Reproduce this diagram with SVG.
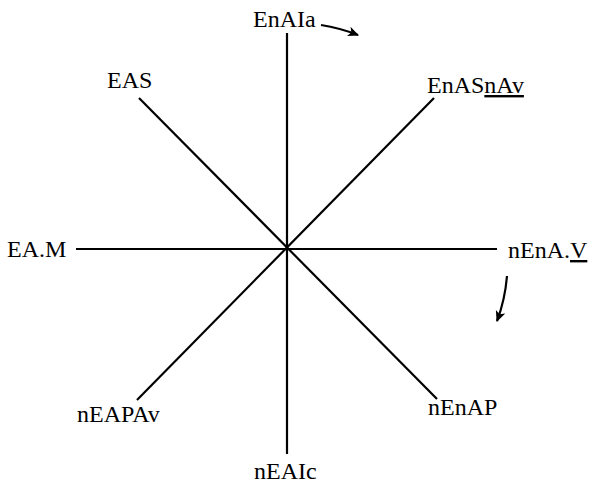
<svg xmlns="http://www.w3.org/2000/svg" width="590" height="488" viewBox="0 0 590 488">
<style>
.ln{stroke:#000;stroke-width:2.2;fill:none}
text{font-family:"Liberation Serif","Times New Roman",serif;font-size:24px;fill:#000}
</style>
<defs>
<marker id="ah" viewBox="0 0 10 10" refX="9" refY="5" markerWidth="5" markerHeight="5" orient="auto">
<path d="M0,0.5 L10,5 L0,9.5 L2.5,5 Z" fill="#000"/>
</marker>
</defs>
<rect width="590" height="488" fill="#fff"/>
<g id="connectors">
<line class="ln" x1="287" y1="33" x2="287" y2="454"/>
<line class="ln" x1="76" y1="249" x2="497" y2="249"/>
<line class="ln" x1="139" y1="98" x2="437" y2="399"/>
<line class="ln" x1="434" y1="98" x2="137" y2="400"/>
<path class="ln" d="M321,25 Q340,28 358,35" marker-end="url(#ah)"/>
<path class="ln" d="M507,276 Q505,300 497,321" marker-end="url(#ah)"/>
</g>
<g id="n-top"><text x="253" y="27">EnAIa</text></g>
<g id="n-nw"><text x="107" y="88">EAS</text></g>
<g id="n-ne"><text x="427" y="93">EnAS<tspan text-decoration="underline">nAv</tspan></text></g>
<g id="n-w"><text x="7" y="257">EA.M</text></g>
<g id="n-e"><text x="508" y="258">nEnA.<tspan text-decoration="underline">V</tspan></text></g>
<g id="n-sw"><text x="77" y="422">nEAPAv</text></g>
<g id="n-se"><text x="428" y="415">nEnAP</text></g>
<g id="n-s"><text x="254" y="479">nEAIc</text></g>
</svg>
